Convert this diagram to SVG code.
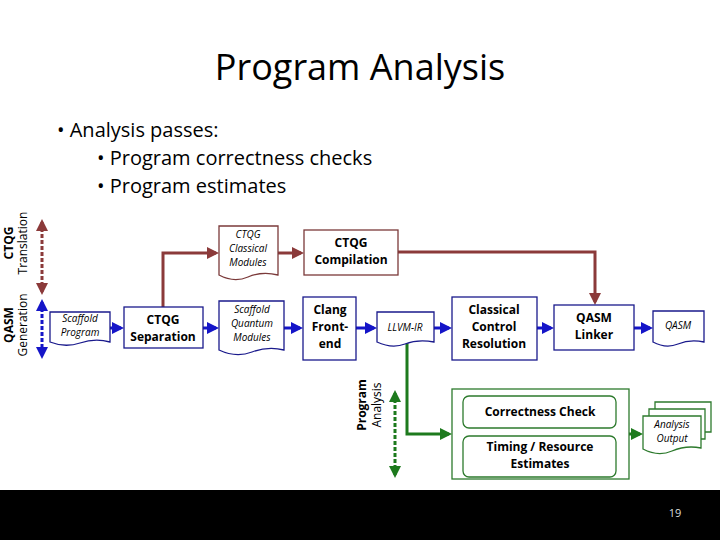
<svg xmlns="http://www.w3.org/2000/svg" width="720" height="540" viewBox="0 0 720 540">
<style>
text{font-family:"Open Sans","Liberation Sans",sans-serif;fill:#000}
.b{fill:#fff;stroke:#1a1a8c;stroke-width:1.3}
.br{fill:#fff;stroke:#7b3a3a;stroke-width:1.3}
.g{fill:#fff;stroke:#2d7a2d;stroke-width:1.3}
.t{font-size:12px;font-weight:bold;text-anchor:middle}
.i{font-size:10px;font-style:italic;text-anchor:middle}
.cb{stroke:#1515c8;stroke-width:3;fill:none}
.cr{stroke:#8b3a3a;stroke-width:3;fill:none}
.cg{stroke:#1d7a1d;stroke-width:3;fill:none}
</style>
<defs>
<marker id="ab" markerWidth="4" markerHeight="4" refX="3" refY="2" orient="auto-start-reverse" markerUnits="strokeWidth"><path d="M0,0L4,2L0,4z" fill="#1515c8"/></marker>
<marker id="ar" markerWidth="4" markerHeight="4" refX="3" refY="2" orient="auto-start-reverse" markerUnits="strokeWidth"><path d="M0,0L4,2L0,4z" fill="#8b3a3a"/></marker>
<marker id="ag" markerWidth="4" markerHeight="4" refX="3" refY="2" orient="auto-start-reverse" markerUnits="strokeWidth"><path d="M0,0L4,2L0,4z" fill="#1d7a1d"/></marker>
</defs>
<rect width="720" height="540" fill="#fff"/>
<text x="360" y="80" font-size="36" text-anchor="middle">Program Analysis</text>
<text x="57" y="137" font-size="20">• Analysis passes:</text>
<text x="97" y="165" font-size="20">• Program correctness checks</text>
<text x="97" y="193" font-size="20">• Program estimates</text>
<g id="side-labels">
<text transform="translate(13,243) rotate(-90)" class="t">CTQG</text>
<text transform="translate(27,243) rotate(-90)" font-size="12" text-anchor="middle">Translation</text>
<text transform="translate(13,325) rotate(-90)" class="t">QASM</text>
<text transform="translate(27,325) rotate(-90)" font-size="12" text-anchor="middle">Generation</text>
<text transform="translate(366,405) rotate(-90)" class="t">Program</text>
<text transform="translate(381,405) rotate(-90)" font-size="12" text-anchor="middle">Analysis</text>
</g>
<g id="connectors">
<line x1="42" y1="222" x2="42" y2="292" class="cr" stroke-dasharray="4,2" marker-start="url(#ar)" marker-end="url(#ar)"/>
<line x1="42" y1="302" x2="42" y2="356" class="cb" stroke-dasharray="4,2" marker-start="url(#ab)" marker-end="url(#ab)"/>
<line x1="395" y1="393" x2="395" y2="475" class="cg" stroke-dasharray="4,2" marker-start="url(#ag)" marker-end="url(#ag)"/>
<line x1="110" y1="328" x2="121" y2="328" class="cb" marker-end="url(#ab)"/>
<line x1="203" y1="328" x2="216" y2="328" class="cb" marker-end="url(#ab)"/>
<line x1="284" y1="328" x2="300" y2="328" class="cb" marker-end="url(#ab)"/>
<line x1="356" y1="328" x2="374" y2="328" class="cb" marker-end="url(#ab)"/>
<line x1="434" y1="328" x2="449" y2="328" class="cb" marker-end="url(#ab)"/>
<line x1="537" y1="328" x2="551" y2="328" class="cb" marker-end="url(#ab)"/>
<line x1="634" y1="328" x2="650" y2="328" class="cb" marker-end="url(#ab)"/>
<polyline points="163,307 163,253 216,253" class="cr" marker-end="url(#ar)"/>
<line x1="278" y1="253" x2="301" y2="253" class="cr" marker-end="url(#ar)"/>
<polyline points="398,252 595,252 595,302" class="cr" marker-end="url(#ar)"/>
<polyline points="407,343 407,434 449,434" class="cg" marker-end="url(#ag)"/>
<line x1="629" y1="434" x2="640" y2="434" class="cg" marker-end="url(#ag)"/>
</g>
<g id="scaffold-program"><path d="M50,312H110V342Q95,338 80,343T50,342Z" class="b"/><text x="80" y="322" class="i">Scaffold</text><text x="80" y="336" class="i">Program</text></g>
<g id="ctqg-separation"><rect x="124" y="307" width="79" height="41" class="b"/><text x="163" y="324" class="t">CTQG</text><text x="163" y="341" class="t">Separation</text></g>
<g id="scaffold-quantum"><path d="M219,301H284V350Q268,346 252,352T219,350Z" class="b"/><text x="252" y="313" class="i">Scaffold</text><text x="252" y="327" class="i">Quantum</text><text x="252" y="341" class="i">Modules</text></g>
<g id="ctqg-classical"><path d="M219,226H278V275Q262,271 248,277T219,275Z" class="br"/><text x="248" y="238" class="i">CTQG</text><text x="248" y="252" class="i">Classical</text><text x="248" y="266" class="i">Modules</text></g>
<g id="ctqg-compilation"><rect x="304" y="230" width="94" height="45" class="br"/><text x="351" y="247" class="t">CTQG</text><text x="351" y="264" class="t">Compilation</text></g>
<g id="clang"><rect x="303" y="297" width="53" height="63" class="b"/><text x="330" y="314" class="t">Clang</text><text x="330" y="331" class="t">Front-</text><text x="330" y="348" class="t">end</text></g>
<g id="llvm-ir"><path d="M377,312H434V342Q418,339 405,344T377,342Z" class="b"/><text x="405" y="331" class="i">LLVM-IR</text></g>
<g id="classical-control"><rect x="452" y="297" width="85" height="63" class="b"/><text x="494" y="314" class="t">Classical</text><text x="494" y="331" class="t">Control</text><text x="494" y="348" class="t">Resolution</text></g>
<g id="qasm-linker"><rect x="554" y="305" width="80" height="45" class="b"/><text x="594" y="322" class="t">QASM</text><text x="594" y="339" class="t">Linker</text></g>
<g id="qasm"><path d="M653,311H704V342Q690,339 678,344T653,342Z" class="b"/><text x="678" y="329" class="i">QASM</text></g>
<g id="analysis-box"><rect x="452" y="389" width="177" height="90" class="g"/>
<rect x="463" y="396" width="153" height="32" rx="6" class="g"/><text x="540" y="416" class="t" font-weight="normal">Correctness Check</text>
<rect x="463" y="436" width="153" height="41" rx="6" class="g"/><text x="540" y="451" class="t" font-weight="normal">Timing / Resource</text><text x="540" y="468" class="t" font-weight="normal">Estimates</text></g>
<g id="analysis-output">
<path d="M655,402H711V432L655,432Z" class="g"/>
<path d="M649,409H705V439L649,439Z" class="g"/>
<path d="M643,416H701V448Q686,445 672,451T643,449Z" class="g"/>
<text x="672" y="428" class="i">Analysis</text><text x="672" y="442" class="i">Output</text></g>
<rect x="0" y="490" width="720" height="50" fill="#000"/>
<text x="675" y="517" font-size="11" text-anchor="middle" style="fill:#ddd">19</text>
</svg>
